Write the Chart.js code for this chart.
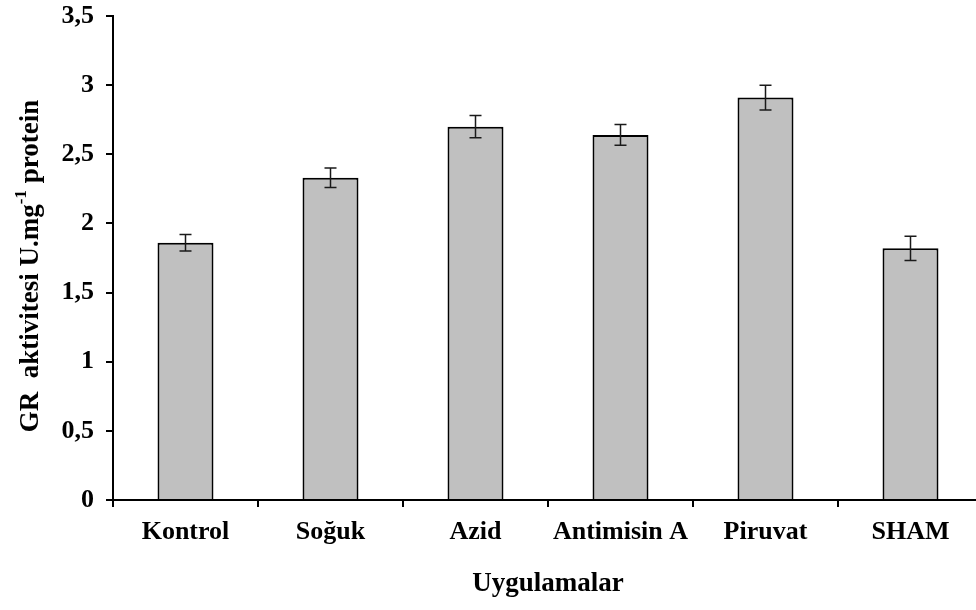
<!DOCTYPE html>
<html>
<head>
<meta charset="utf-8">
<script src="https://cdn.jsdelivr.net/npm/chart.js@4/dist/chart.umd.min.js"></script>
<style>
  html, body { margin: 0; padding: 0; background: #fff; overflow: hidden; }
  #wrap { width: 990px; height: 610px; }
</style>
</head>
<body>
<div id="wrap"><canvas id="grChart" width="990" height="610"></canvas></div>
<script>
// data
const categories = ['Kontrol', 'Soğuk', 'Azid', 'Antimisin A', 'Piruvat', 'SHAM'];
const grValues = [1.86, 2.33, 2.70, 2.64, 2.91, 1.82];
const grErrors = [0.06, 0.07, 0.08, 0.075, 0.09, 0.088];
const yTicks = [0, 0.5, 1, 1.5, 2, 2.5, 3, 3.5];

const serif = '"Liberation Serif", "Times New Roman", serif';

// error bars drawn on top of the bars
const errorBars = {
    id: 'errorBars',
    afterDatasetsDraw(chart) {
        const ctx = chart.ctx;
        const y = chart.scales.y;
        const meta = chart.getDatasetMeta(0);
        ctx.save();
        ctx.strokeStyle = '#1a1a1a';
        ctx.lineWidth = 1.5;
        meta.data.forEach((bar, i) => {
            const top = y.getPixelForValue(grValues[i] + grErrors[i]);
            const bot = y.getPixelForValue(grValues[i] - grErrors[i]);
            const x = bar.x;
            ctx.beginPath();
            ctx.moveTo(x, top); ctx.lineTo(x, bot);
            ctx.moveTo(x - 6, top); ctx.lineTo(x + 6, top);
            ctx.moveTo(x - 6, bot); ctx.lineTo(x + 6, bot);
            ctx.stroke();
        });
        ctx.restore();
    }
};

// y title with a real superscript
const yTitle = {
    id: 'yTitle',
    afterDraw(chart) {
        const ctx = chart.ctx;
        const a = 'GR  aktivitesi U.mg';
        const sup = '-1';
        const b = ' protein';
        ctx.save();
        ctx.fillStyle = '#000';
        ctx.textBaseline = 'middle';
        ctx.font = 'bold 27px ' + serif;
        const wa = ctx.measureText(a).width;
        const wb = ctx.measureText(b).width;
        ctx.font = 'bold 17px ' + serif;
        const ws = ctx.measureText(sup).width;
        const total = wa + ws + wb;
        ctx.translate(31, 266);
        ctx.rotate(-Math.PI / 2);
        let x = -total / 2;
        ctx.textAlign = 'left';
        ctx.font = 'bold 27px ' + serif;
        ctx.fillText(a, x, 0);
        x += wa;
        ctx.font = 'bold 17px ' + serif;
        ctx.fillText(sup, x, -9);
        x += ws;
        ctx.font = 'bold 27px ' + serif;
        ctx.fillText(b, x, 0);
        ctx.restore();
    }
};

new Chart(document.getElementById('grChart'), {
    type: 'bar',
    data: {
        labels: categories,
        datasets: [{
            data: grValues,
            backgroundColor: '#c0c0c0',
            borderColor: '#000',
            borderWidth: 2,
            borderSkipped: 'bottom',
            barPercentage: 0.386,
            categoryPercentage: 1
        }]
    },
    options: {
        responsive: false,
        animation: false,
        events: [],
        layout: { padding: { top: 16, right: 7, left: 0, bottom: 0 } },
        plugins: {
            legend: { display: false },
            tooltip: { enabled: false }
        },
        scales: {
            x: {
                grid: { drawOnChartArea: false, drawTicks: true, tickLength: 7, color: '#000', lineWidth: 2, offset: true },
                border: { display: true, color: '#000', width: 2 },
                ticks: { color: '#000', padding: 10, maxRotation: 0, autoSkip: false, font: { family: serif, size: 26, weight: 'bold' } },
                title: { display: true, text: 'Uygulamalar', color: '#000', padding: { top: 0, bottom: 10 }, font: { family: serif, size: 27, weight: 'bold' } },
                afterFit(scale) { scale.height = 110; }
            },
            y: {
                min: 0,
                max: 3.5,
                afterBuildTicks(scale) { scale.ticks = yTicks.map(v => ({ value: v })); },
                grid: { drawOnChartArea: false, drawTicks: true, tickLength: 7, color: '#000', lineWidth: 2 },
                border: { display: true, color: '#000', width: 2 },
                ticks: {
                    color: '#000',
                    padding: 12,
                    font: { family: serif, size: 26, weight: 'bold' },
                    callback: v => String(v).replace('.', ',')
                },
                afterFit(scale) {
                    scale.width = 113;
                    scale.paddingTop = 0;
                    scale.paddingBottom = 0;
                }
            }
        }
    },
    plugins: [errorBars, yTitle]
});
</script>
</body>
</html>
